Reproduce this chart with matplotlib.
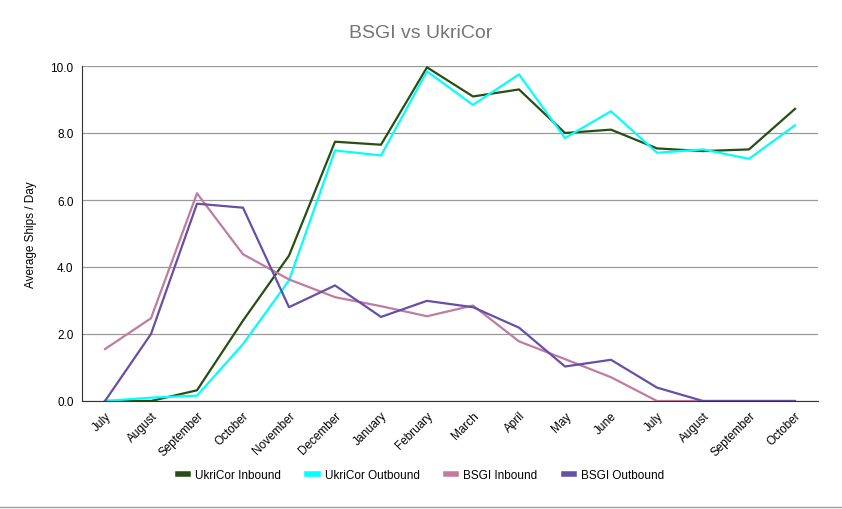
import matplotlib
matplotlib.use("Agg")
import matplotlib.pyplot as plt
from matplotlib.lines import Line2D
import numpy as np

plt.rcParams['font.family'] = ['Liberation Sans', 'DejaVu Sans']

months = ["July", "August", "September", "October", "November", "December",
          "January", "February", "March", "April", "May", "June",
          "July", "August", "September", "October"]

ukricor_in = [0.0, 0.0, 0.32, 2.4, 4.34, 7.74, 7.65, 9.96, 9.09, 9.3, 8.0, 8.1, 7.54, 7.46, 7.51, 8.72]
ukricor_out = [0.0, 0.1, 0.16, 1.7, 3.6, 7.48, 7.33, 9.84, 8.84, 9.75, 7.85, 8.65, 7.41, 7.51, 7.23, 8.23]
bsgi_in = [1.55, 2.47, 6.2, 4.38, 3.63, 3.1, 2.83, 2.53, 2.85, 1.78, 1.25, 0.71, 0.0, 0.0, 0.0, 0.0]
bsgi_out = [0.0, 2.0, 5.89, 5.77, 2.8, 3.45, 2.51, 2.99, 2.8, 2.19, 1.03, 1.23, 0.4, 0.0, 0.0, 0.0]

series = [
    ("UkriCor Inbound", ukricor_in, "#274e13"),
    ("UkriCor Outbound", ukricor_out, "#00ffff"),
    ("BSGI Inbound", bsgi_in, "#c27ba0"),
    ("BSGI Outbound", bsgi_out, "#674ea7"),
]

fig = plt.figure(figsize=(8.42, 5.10), dpi=100)
ax = fig.add_axes([82/842, 1-402/510, (818-82)/842, (402-67)/510])

x = np.arange(len(months))
for name, vals, col in series:
    ax.plot(x, vals, color=col, lw=1.6, label=name)

ax.set_xlim(-0.5, len(months) - 0.5)
ax.set_ylim(0, 10)
ax.set_yticks(np.arange(0, 10.1, 2))
ax.set_yticklabels(["%.1f" % v for v in np.arange(0, 10.1, 2)], fontsize=8.5)
ax.set_xticks(x)
ax.set_xticklabels(months, rotation=45, ha="right", rotation_mode="anchor", fontsize=8.5)
ax.tick_params(length=0, pad=6)
ax.grid(axis="y", color="#999999", lw=0.9)
ax.set_axisbelow(True)
for s in ["top", "right"]:
    ax.spines[s].set_visible(False)
ax.spines["left"].set_color("#333333")
ax.spines["bottom"].set_color("#333333")
ax.set_ylabel("Average Ships / Day", fontsize=8.5, labelpad=10)

fig.text(0.5, 1 - 33/510, "BSGI vs UkriCor", ha="center", va="center", fontsize=14, color="#757575")

handles = [Line2D([0], [0], color=c, lw=4) for _, _, c in series]
fig.legend(handles, [n for n, _, _ in series], loc="center", bbox_to_anchor=(0.5, 1 - 476/510),
           ncol=4, frameon=False, fontsize=8.5, handlelength=0.9, handletextpad=0.6, columnspacing=2.2)

fig.add_artist(Line2D([0, 1], [2/510, 2/510], color="#9e9e9e", lw=1, transform=fig.transFigure))

fig.savefig("out.png", dpi=100)
